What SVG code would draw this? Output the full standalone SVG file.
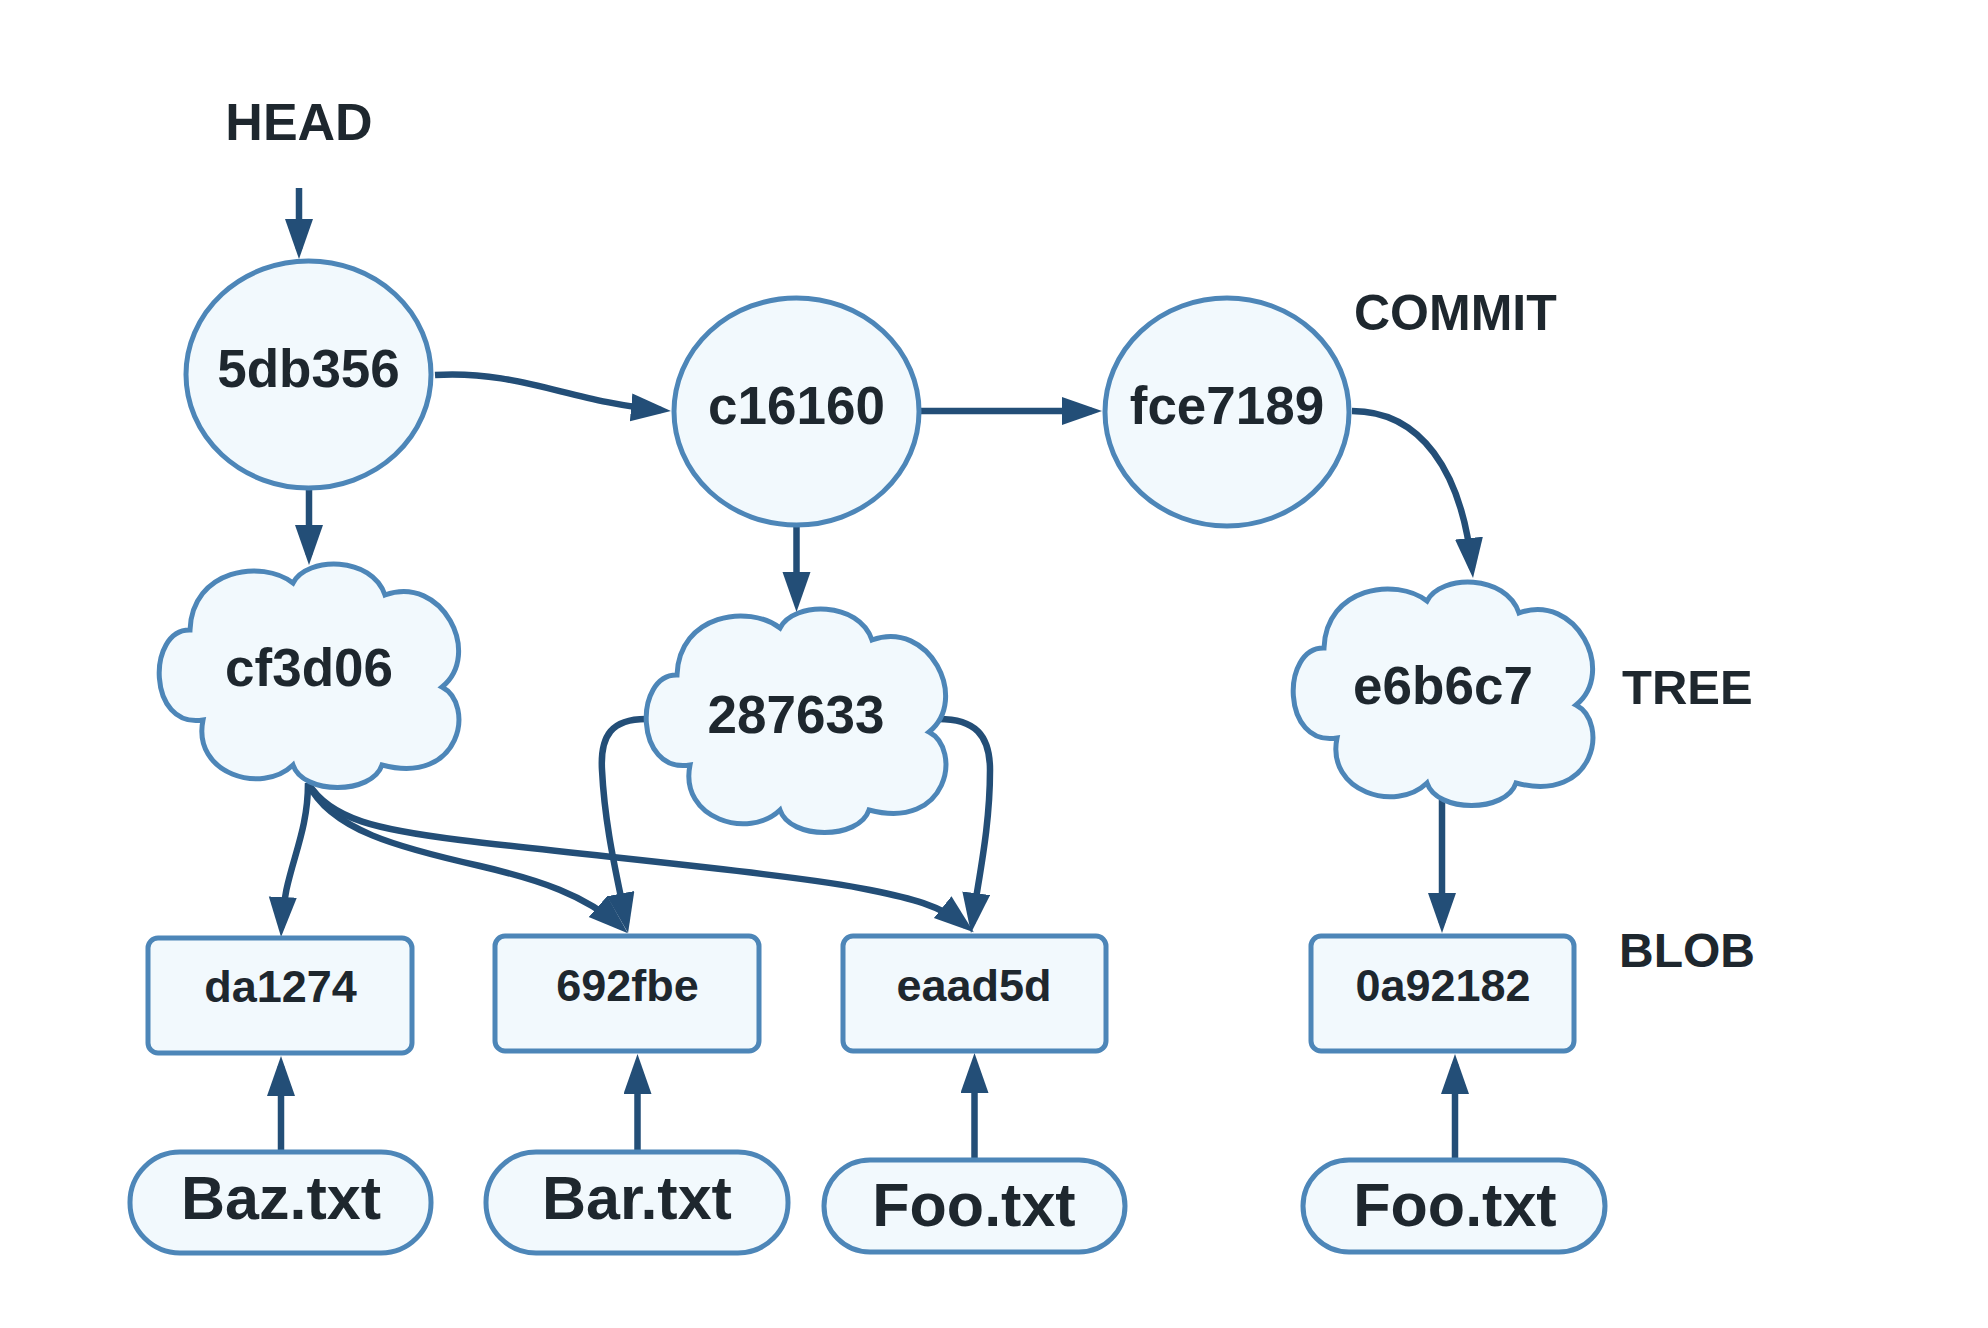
<svg xmlns="http://www.w3.org/2000/svg" width="1988" height="1328" viewBox="0 0 1988 1328">
<style>
.shape{fill:#f2f9fd;stroke:#4d86b8;stroke-width:5}
.conn{fill:none;stroke:#234e77;stroke-width:6.5}
.t{font-family:"Liberation Sans",Arial,sans-serif;font-weight:bold;fill:#1e272e;text-anchor:middle}
.lbl{font-family:"Liberation Sans",Arial,sans-serif;font-weight:bold;fill:#1e272e}
</style>
<defs>
<marker id="ah" markerUnits="userSpaceOnUse" markerWidth="42" markerHeight="30" refX="30" refY="14" orient="auto">
<path d="M0,0 L40,14 L0,28 Z" fill="#234e77"/>
</marker>
<path id="cloud" d="M33 66 C35 5,105 -5,136 19 C150 -8,215 -8,228 31 C285 10,326 90,285 123 C318 140,305 222,225 201 C215 231,146 231,136 201 C105 231,35 210,46 156 C-10 165,-10 65,33 66 Z"/>
</defs>
<rect width="1988" height="1328" fill="#ffffff"/>

<g id="labels">
<text class="t" x="299" y="140" font-size="52">HEAD</text>
<text class="lbl" x="1354" y="330" font-size="50">COMMIT</text>
<text class="lbl" x="1622" y="704" font-size="49">TREE</text>
<text class="lbl" x="1619" y="967" font-size="48">BLOB</text>
</g>

<g id="connectors">
<path class="conn" d="M299 188 L299 249" marker-end="url(#ah)"/>
<path class="conn" d="M435 375 C520 370,570 402,661 410" marker-end="url(#ah)"/>
<path class="conn" d="M921 411 L1092 411" marker-end="url(#ah)"/>
<path class="conn" d="M1352 411 C1420 411,1462 470,1472 568" marker-end="url(#ah)"/>
<path class="conn" d="M309 489 L309 555" marker-end="url(#ah)"/>
<path class="conn" d="M796.5 527 L796.5 602" marker-end="url(#ah)"/>
<path class="conn" d="M1442 800 L1442 923" marker-end="url(#ah)"/>
<path class="conn" d="M308 783 C308 840,284 870,281.5 927" marker-end="url(#ah)"/>
<path class="conn" d="M308 783 C330 830,400 848,480 866 C540 880,585 895,620.4 926.5" marker-end="url(#ah)"/>
<path class="conn" d="M308 783 C330 820,380 830,460 840 C600 857,800 875,870 890 C910 898,940 905,966 926" marker-end="url(#ah)"/>
<path class="conn" d="M646 719 C612 719,600 735,602 770 C605 830,618 880,626.2 923.1" marker-end="url(#ah)"/>
<path class="conn" d="M938.5 719 C975 719,990 735,990 770 C990 830,978 880,972.3 923" marker-end="url(#ah)"/>
<path class="conn" d="M281 1151 L281 1066" marker-end="url(#ah)"/>
<path class="conn" d="M637.5 1152 L637.5 1064" marker-end="url(#ah)"/>
<path class="conn" d="M974.5 1160 L974.5 1063" marker-end="url(#ah)"/>
<path class="conn" d="M1455 1160 L1455 1064" marker-end="url(#ah)"/>
</g>

<g id="commit-5db356">
<ellipse class="shape" cx="308.5" cy="374.5" rx="122.5" ry="113.5"/>
<text class="t" x="308.5" y="387" font-size="53">5db356</text>
</g>
<g id="commit-c16160">
<ellipse class="shape" cx="796.5" cy="411.5" rx="122.5" ry="113.5"/>
<text class="t" x="796.5" y="424" font-size="53">c16160</text>
</g>
<g id="commit-fce7189">
<ellipse class="shape" cx="1227" cy="412" rx="122" ry="114"/>
<text class="t" x="1227" y="424" font-size="53">fce7189</text>
</g>

<g id="tree-cf3d06">
<use href="#cloud" class="shape" transform="translate(157,564)"/>
<text class="t" x="309" y="686" font-size="53">cf3d06</text>
</g>
<g id="tree-287633">
<use href="#cloud" class="shape" transform="translate(644,609)"/>
<text class="t" x="796" y="733" font-size="53">287633</text>
</g>
<g id="tree-e6b6c7">
<use href="#cloud" class="shape" transform="translate(1291,582)"/>
<text class="t" x="1443" y="704" font-size="53">e6b6c7</text>
</g>

<g id="blob-da1274">
<rect class="shape" x="148" y="938" width="264" height="115" rx="10"/>
<text class="t" x="280.5" y="1002" font-size="45">da1274</text>
</g>
<g id="blob-692fbe">
<rect class="shape" x="495" y="936" width="264" height="115" rx="10"/>
<text class="t" x="627.5" y="1001" font-size="45">692fbe</text>
</g>
<g id="blob-eaad5d">
<rect class="shape" x="843" y="936" width="263" height="115" rx="10"/>
<text class="t" x="974" y="1001" font-size="45">eaad5d</text>
</g>
<g id="blob-0a92182">
<rect class="shape" x="1311" y="936" width="263" height="115" rx="10"/>
<text class="t" x="1443" y="1001" font-size="45">0a92182</text>
</g>

<g id="file-baz">
<rect class="shape" x="130" y="1152" width="301" height="101" rx="50"/>
<text class="t" x="281" y="1219" font-size="61">Baz.txt</text>
</g>
<g id="file-bar">
<rect class="shape" x="486" y="1152" width="302" height="101" rx="50"/>
<text class="t" x="637" y="1219" font-size="61">Bar.txt</text>
</g>
<g id="file-foo-1">
<rect class="shape" x="824" y="1160" width="301" height="92" rx="46"/>
<text class="t" x="974" y="1226" font-size="61">Foo.txt</text>
</g>
<g id="file-foo-2">
<rect class="shape" x="1303" y="1160" width="302" height="92" rx="46"/>
<text class="t" x="1455" y="1226" font-size="61">Foo.txt</text>
</g>
</svg>
